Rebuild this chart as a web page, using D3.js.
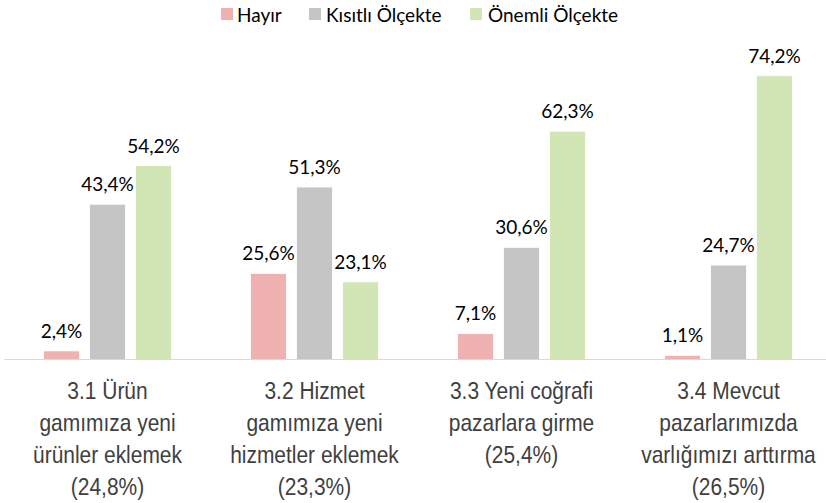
<!DOCTYPE html>
<html>
<head>
<meta charset="utf-8">
<script src="https://cdn.jsdelivr.net/npm/d3@7"></script>
<style>
  html, body { margin: 0; padding: 0; background: #fff; }
  svg { display: block; }
</style>
</head>
<body>
<svg id="chart" width="826" height="503"></svg>
<script>
// ---- data ----
const categories = ["3.1", "3.2", "3.3", "3.4"];
const categoryLines = [
  ["3.1 Ürün", "gamımıza yeni", "ürünler eklemek", "(24,8%)"],
  ["3.2 Hizmet", "gamımıza yeni", "hizmetler eklemek", "(23,3%)"],
  ["3.3 Yeni coğrafi", "pazarlara girme", "(25,4%)"],
  ["3.4 Mevcut", "pazarlarımızda", "varlığımızı arttırma", "(26,5%)"]
];
const groupShare = [24.8, 23.3, 25.4, 26.5];
const series = ["Hayır", "Kısıtlı Ölçekte", "Önemli Ölçekte"];
const hayir   = [2.4, 25.6, 7.1, 1.1];
const kisitli = [43.4, 51.3, 30.6, 24.7];
const onemli  = [54.2, 23.1, 62.3, 74.2];
const colors = ["#f0b1b1", "#c4c5c4", "#d1e5b5"];

const seriesValues = [hayir, kisitli, onemli];
const fmt = v => v.toFixed(1).replace(".", ",") + "%";

const svg = d3.select("#chart");
const baseY = 359.5;
const x0 = d3.scaleBand().domain(categories).range([4, 832]).padding(0);
const bw = x0.bandwidth();
const x1 = d3.scaleBand().domain(series).range([(bw - 128) / 2, (bw + 128) / 2])
  .paddingInner(10 / 46).paddingOuter(0);
// bar height proportional to value × group share (share of total)
const y = d3.scaleLinear().domain([0, 20]).range([baseY, baseY - 288.6]);

const data = [];
categories.forEach((c, i) => {
  series.forEach((s, j) => {
    const v = seriesValues[j][i];
    data.push({ c, s, j, v, h: v * groupShare[i] / 100 });
  });
});

const g = svg.append("g");
g.selectAll("rect.bar").data(data).join("rect")
  .attr("class", "bar")
  .attr("x", d => x0(d.c) + x1(d.s))
  .attr("width", x1.bandwidth())
  .attr("y", d => y(d.h))
  .attr("height", d => y(0) - y(d.h))
  .attr("fill", d => colors[d.j])
  .attr("stroke", "#ffffff")
  .attr("stroke-width", 0.8);

g.selectAll("text.val").data(data).join("text")
  .attr("class", "val")
  .attr("x", d => x0(d.c) + x1(d.s) + x1.bandwidth() / 2)
  .attr("y", d => y(d.h) - 13)
  .attr("text-anchor", "middle")
  .attr("font-family", "Lato, 'Open Sans', sans-serif")
  .attr("font-size", 19)
  .attr("fill", "#000")
  .text(d => fmt(d.v));

// axis baseline
const xAxis = d3.axisBottom(x0).tickSize(0).tickFormat("");
const ax = svg.append("g").attr("transform", `translate(0,${baseY})`).call(xAxis);
ax.select(".domain").attr("stroke", "#d9d9d9").attr("stroke-width", 1.2)
  .attr("d", "M4,0H826");

// category labels (condensed look)
const catG = svg.append("g");
categories.forEach((c, i) => {
  const cx = x0(c) + bw / 2;
  const t = catG.append("text")
    .attr("transform", `translate(${cx},0) scale(0.88,1)`)
    .attr("x", 0)
    .attr("y", 399.3)
    .attr("text-anchor", "middle")
    .attr("font-family", "'Liberation Sans', Arial, sans-serif")
    .attr("font-size", 23.8)
    .attr("fill", "#404040");
  categoryLines[i].forEach((line, k) => {
    t.append("tspan").attr("x", 0).attr("dy", k === 0 ? 0 : 32).text(line);
  });
});

// legend
const legendItems = [
  { s: series[0], sx: 221, tx: 237 },
  { s: series[1], sx: 309, tx: 326 },
  { s: series[2], sx: 470, tx: 488 }
];
const lg = svg.append("g");
legendItems.forEach((d, j) => {
  lg.append("rect").attr("x", d.sx).attr("y", 8).attr("width", 12).attr("height", 12)
    .attr("fill", colors[j]);
  lg.append("text").attr("x", d.tx).attr("y", 22)
    .attr("font-family", "Lato, 'Open Sans', sans-serif")
    .attr("font-size", 19).attr("fill", "#000")
    .text(d.s);
});
</script>
</body>
</html>
